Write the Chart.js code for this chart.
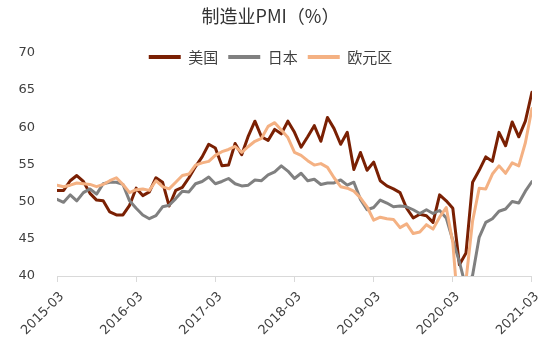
<!DOCTYPE html>
<html>
<head>
<meta charset="utf-8">
<script src="https://cdn.jsdelivr.net/npm/chart.js@4.4.1/dist/chart.umd.min.js"></script>
<style>
  html, body { margin: 0; padding: 0; background: #fff; }
</style>
</head>
<body>
<canvas id="pmiChart" width="550" height="353"></canvas>
<script>
// 月份 2015-03 ~ 2021-03
const months = [];
for (let y = 2015; y <= 2021; y++) {
  for (let m = 1; m <= 12; m++) {
    if ((y === 2015 && m < 3) || (y === 2021 && m > 3)) continue;
    months.push(y + '-' + String(m).padStart(2, '0'));
  }
}

// 美国
const usPmi = [
  51.5, 51.5, 52.8, 53.5, 52.7, 51.1, 50.2, 50.1, 48.6, 48.2,
  48.2, 49.5, 51.8, 50.8, 51.3, 53.2, 52.6, 49.4, 51.5, 51.9, 53.2, 54.7,
  56.0, 57.7, 57.2, 54.8, 54.9, 57.8, 56.3, 58.8, 60.8, 58.7, 58.2, 59.7,
  59.1, 60.8, 59.3, 57.3, 58.7, 60.2, 58.1, 61.3, 59.8, 57.7, 59.3, 54.3,
  56.6, 54.2, 55.3, 52.8, 52.1, 51.7, 51.2, 49.1, 47.8, 48.3, 48.1, 47.2,
  50.9, 50.1, 49.1, 41.5, 43.1, 52.6, 54.2, 56.0, 55.4, 59.3, 57.5, 60.7,
  58.7, 60.8, 64.7
];

// 日本
const jpPmi = [
  50.3, 49.9, 50.9, 50.1, 51.2, 51.7, 51.0, 52.4, 52.6, 52.6,
  52.3, 50.1, 49.1, 48.2, 47.7, 48.1, 49.3, 49.5, 50.4, 51.4, 51.3, 52.4,
  52.7, 53.3, 52.4, 52.7, 53.1, 52.4, 52.1, 52.2, 52.9, 52.8, 53.6, 54.0,
  54.8, 54.1, 53.1, 53.8, 52.8, 53.0, 52.3, 52.5, 52.5, 52.9, 52.2, 52.6,
  50.3, 48.9, 49.2, 50.2, 49.8, 49.3, 49.4, 49.3, 48.9, 48.4, 48.9, 48.4,
  48.8, 47.8, 44.8, 41.9, 38.4, 40.1, 45.2, 47.2, 47.7, 48.7, 49.0, 50.0,
  49.8, 51.4, 52.7
];

// 欧元区
const ezPmi = [
  52.2, 52.0, 52.2, 52.5, 52.4, 52.3, 52.0, 52.3, 52.8, 53.2,
  52.3, 51.2, 51.6, 51.7, 51.5, 52.8, 52.0, 51.7, 52.6, 53.5, 53.7, 54.9,
  55.2, 55.4, 56.2, 56.7, 57.0, 57.4, 56.6, 57.4, 58.1, 58.5, 60.1, 60.6,
  59.6, 58.6, 56.6, 56.2, 55.5, 54.9, 55.1, 54.6, 53.2, 52.0, 51.8, 51.4,
  50.5, 49.3, 47.5, 47.9, 47.7, 47.6, 46.5, 47.0, 45.7, 45.9, 46.9, 46.3,
  47.9, 49.2, 44.5, 33.4, 39.4, 47.4, 51.8, 51.7, 53.7, 54.8, 53.8, 55.2,
  54.8, 57.9, 62.5
];

const cjkFont = '"Noto Sans CJK SC", "DejaVu Sans", sans-serif';
const numFont = '"DejaVu Sans", sans-serif';
const textColor = '#404040';

// 图例放在绘图区顶部（与原图一致）
const legendInPlot = {
  id: 'legendInPlot',
  afterLayout(chart) {
    const lg = chart.legend;
    lg.top = 39.5;
    lg.height = 36;
    lg.bottom = lg.top + lg.height;
  }
};

function line(label, data, color, order) {
  return {
    label, data, order,
    borderColor: color,
    backgroundColor: color,
    borderWidth: 3,
    pointRadius: 0,
    tension: 0,
    borderJoinStyle: 'round',
    borderCapStyle: 'round',
    clip: 0
  };
}

new Chart(document.getElementById('pmiChart'), {
  type: 'line',
  data: {
    labels: months,
    datasets: [
      line('美国', usPmi, '#7A2003', 3),
      line('日本', jpPmi, '#808080', 2),
      line('欧元区', ezPmi, '#F4B183', 1)
    ]
  },
  options: {
    responsive: false,
    animation: false,
    layout: { padding: { left: 0, right: 9, top: 0, bottom: 0 } },
    plugins: {
      title: {
        display: true,
        text: '制造业PMI（%）',
        color: '#333333',
        font: { family: cjkFont, size: 18, weight: 'normal' },
        padding: { top: 5, bottom: 26.1 }
      },
      legend: {
        position: 'top',
        maxHeight: 0.01,
        labels: {
          usePointStyle: true,
          pointStyle: 'line',
          pointStyleWidth: 32,
          padding: 10,
          color: textColor,
          font: { family: cjkFont, size: 15 },
          generateLabels: chart => Chart.defaults.plugins.legend.labels.generateLabels(chart)
            .map(item => ({ ...item, lineWidth: 4 })),
          sort: (a, b) => a.datasetIndex - b.datasetIndex
        }
      },
      tooltip: { enabled: false }
    },
    scales: {
      x: {
        ticks: {
          autoSkip: false,
          minRotation: 45,
          maxRotation: 45,
          padding: 7,
          labelOffset: 5,
          color: textColor,
          font: { family: numFont, size: 13 },
          callback: (v, i) => (i % 12 === 0 ? months[i] : '')
        },
        grid: {
          drawOnChartArea: false,
          drawTicks: true,
          tickLength: 6,
          color: ctx => (ctx.index % 12 === 0 ? '#D9D9D9' : 'rgba(0,0,0,0)')
        },
        border: { color: '#D9D9D9', width: 1 },
        afterFit: s => { s.height = 77; }
      },
      y: {
        min: 40,
        max: 70,
        ticks: {
          stepSize: 5,
          padding: 22,
          color: textColor,
          font: { family: numFont, size: 13 }
        },
        grid: { display: false, drawTicks: false },
        border: { display: false },
        afterFit: s => { s.width = 57; }
      }
    }
  },
  plugins: [legendInPlot]
});
</script>
</body>
</html>
